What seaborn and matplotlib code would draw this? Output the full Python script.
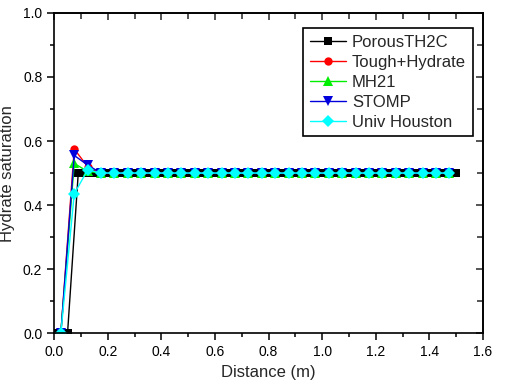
import numpy as np
import matplotlib
matplotlib.use('Agg')
import matplotlib.pyplot as plt
import seaborn as sns
from matplotlib.ticker import MultipleLocator

# data
x_porous = np.round(np.concatenate([np.arange(0.0, 0.051, 0.01), np.arange(0.09, 1.501, 0.01)]), 3)
y_porous = [0.0] * 6 + [0.5] * (len(x_porous) - 6)

x_grid = np.round(np.arange(0.025, 1.476, 0.05), 3)
n_flat = len(x_grid) - 3
y_tough = [0.0, 0.575, 0.52] + [0.5] * n_flat
y_mh21 = [0.0, 0.53, 0.505] + [0.5] * n_flat
y_stomp = [0.0, 0.555, 0.525] + [0.5] * n_flat
y_houston = [0.0, 0.435, 0.51] + [0.5] * n_flat

x_ticks = [0.0, 0.2, 0.4, 0.6, 0.8, 1.0, 1.2, 1.4, 1.6]
y_ticks = [0.0, 0.2, 0.4, 0.6, 0.8, 1.0]

sns.set_style('ticks')
plt.rcParams['font.family'] = ['Liberation Sans', 'DejaVu Sans']

fig, ax = plt.subplots(figsize=(5.06, 3.92), dpi=100)
fig.subplots_adjust(left=0.107, right=0.9545, top=0.967, bottom=0.150)

series = [
    ('PorousTH2C', x_porous, y_porous, 'black', 's', 5.2),
    ('Tough+Hydrate', x_grid, y_tough, 'red', 'o', 6),
    ('MH21', x_grid, y_mh21, '#00ee00', '^', 6.5),
    ('STOMP', x_grid, y_stomp, '#0000dd', 'v', 6.5),
    ('Univ Houston', x_grid, y_houston, 'cyan', 'D', 6),
]
for name, xs, ys, col, mk, ms in series:
    sns.lineplot(x=xs, y=ys, ax=ax, color=col, marker=mk, markersize=ms,
                 markeredgewidth=0, linewidth=1.0, label=name)

ax.set_xlim(0, 1.6)
ax.set_ylim(0, 1.0)
ax.set_xticks(x_ticks)
ax.set_yticks(y_ticks)
ax.xaxis.set_minor_locator(MultipleLocator(0.1))
ax.yaxis.set_minor_locator(MultipleLocator(0.1))
ax.tick_params(which='both', direction='out', labelsize=10, colors='black', width=1.1)
ax.tick_params(which='major', length=5)
ax.tick_params(which='minor', length=3)

# Origin-style inward ticks on the top and right frame
top = ax.secondary_xaxis('top')
top.set_xticks(x_ticks)
top.xaxis.set_minor_locator(MultipleLocator(0.1))
top.tick_params(which='both', direction='in', labeltop=False, width=1.1)
top.tick_params(which='major', length=5)
top.tick_params(which='minor', length=4)
right = ax.secondary_yaxis('right')
right.set_yticks(y_ticks)
right.yaxis.set_minor_locator(MultipleLocator(0.1))
right.tick_params(which='both', direction='in', labelright=False, width=1.1)
right.tick_params(which='major', length=5)
right.tick_params(which='minor', length=4)

for a in (ax, top, right):
    for s in a.spines.values():
        s.set_linewidth(1.2)
        s.set_color('black')

ax.set_xlabel('Distance (m)', fontsize=12, labelpad=4)
ax.set_ylabel('Hydrate saturation', fontsize=12, labelpad=6)

leg = ax.legend(loc='upper left', bbox_to_anchor=(0.58, 0.953), borderaxespad=0,
                fontsize=12, frameon=True, fancybox=False, edgecolor='black',
                framealpha=1, handlelength=2.2, borderpad=0.4, labelspacing=0.3,
                handletextpad=0.35)
leg.get_frame().set_linewidth(1.2)

plt.savefig('out.png', dpi=100)
